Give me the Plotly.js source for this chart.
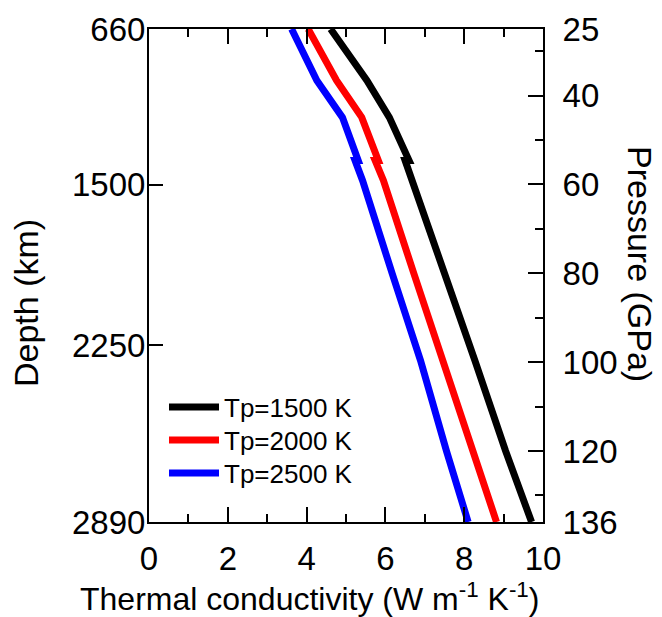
<!DOCTYPE html>
<html>
<head>
<meta charset="utf-8">
<script src="https://cdn.plot.ly/plotly-3.0.1.min.js"></script>
<style>
  html, body { margin: 0; padding: 0; background: #fff; }
  #chart { width: 662px; height: 617px; }
</style>
</head>
<body>
<div id="chart"></div>
<script>
// Pressure (GPa) sample points shared by the three curves (duplicate = small step in the curve)
const pressure = [25, 36.6, 44.9, 54.6, 54.6, 59.1, 80, 99.6, 120, 136];
// Thermal conductivity (W m-1 K-1)
const k1500 = [4.61, 5.53, 6.10, 6.60, 6.50, 6.68, 7.50, 8.27, 9.05, 9.71];
const k2000 = [4.04, 4.76, 5.40, 5.82, 5.74, 5.95, 6.72, 7.45, 8.20, 8.82];
const k2500 = [3.62, 4.26, 4.91, 5.31, 5.23, 5.42, 6.17, 6.89, 7.55, 8.10];
const seriesNames = ['Tp=1500 K', 'Tp=2000 K', 'Tp=2500 K'];
const seriesColors = ['#000000', '#ff0000', '#0000ff'];

// Left axis: depth labels placed at their pressure positions
const depthLabels = ['660', '1500', '2250', '2890'];
const depthTickPressures = [25, 60.1, 96.2, 136];
// Right axis: pressure labels
const pressureTicks = [25, 40, 60, 80, 100, 120, 136];
const pressureMinorTicks = [30, 50, 70, 90, 110, 130];
// Bottom axis
const xTicks = [0, 2, 4, 6, 8, 10];

const FONT = 'Liberation Sans, Arial, Helvetica, sans-serif';
const FS = 33;
const lw = 7;

const ks = [k1500, k2000, k2500];
const legendIds = ['legend', 'legend2', 'legend3'];
const traces = ks.map((k, i) => ({
  x: k, y: pressure, type: 'scatter', mode: 'lines',
  name: seriesNames[i], legend: legendIds[i],
  line: { color: seriesColors[i], width: lw },
  xaxis: 'x', yaxis: 'y'
}));
traces.push({ x: [null], y: [null], type: 'scatter', mode: 'lines', xaxis: 'x', yaxis: 'y2',
  showlegend: false, hoverinfo: 'skip' });
traces.push({ x: [null], y: [null], type: 'scatter', mode: 'lines', xaxis: 'x', yaxis: 'y3',
  showlegend: false, hoverinfo: 'skip' });

// plot-area geometry used to place the free titles/legends
const L = 149, T = 29, W = 394, H = 493;
const px = (x) => (x - L) / W;
const py = (y) => 1 - (y - T) / H;

function legendAt(yc) {
  return {
    x: px(164), y: py(yc), xanchor: 'left', yanchor: 'middle',
    font: { family: FONT, size: 26, color: '#000' },
    bgcolor: 'rgba(0,0,0,0)', borderwidth: 0, itemwidth: 50
  };
}

const axisFont = { family: FONT, size: FS, color: '#000' };

const layout = {
  width: 662, height: 617,
  margin: { l: 149, r: 119, t: 29, b: 95, pad: 0 },
  paper_bgcolor: '#fff', plot_bgcolor: '#fff',
  font: { family: FONT, color: '#000', size: FS },
  showlegend: true,
  legend: legendAt(407),
  legend2: legendAt(440),
  legend3: legendAt(473),
  xaxis: {
    range: [0, 10], showgrid: false, zeroline: false,
    showline: true, linecolor: '#000', linewidth: 2, mirror: 'ticks',
    tickmode: 'array', tickvals: xTicks,
    ticks: 'inside', ticklen: 15, tickwidth: 2, tickcolor: '#000',
    minor: { dtick: 1, tick0: 0, ticks: 'inside', ticklen: 8, tickwidth: 2, tickcolor: '#000' },
    tickfont: axisFont,
    ticklabelstandoff: 6
  },
  yaxis: {
    range: [136, 25], showgrid: false, zeroline: false,
    showline: true, linecolor: '#000', linewidth: 2, mirror: true,
    tickmode: 'array', tickvals: depthTickPressures, ticktext: depthLabels,
    ticks: '',
    tickfont: axisFont,
    ticklabelstandoff: -5
  },
  yaxis3: {
    overlaying: 'y', side: 'left', anchor: 'x',
    range: [136, 25], showgrid: false, zeroline: false, showline: false,
    tickmode: 'array', tickvals: depthTickPressures,
    ticks: 'inside', ticklen: 14, tickwidth: 2, tickcolor: '#000',
    showticklabels: false
  },
  yaxis2: {
    overlaying: 'y', side: 'right', anchor: 'x',
    range: [136, 25], showgrid: false, zeroline: false,
    showline: true, linecolor: '#000', linewidth: 2,
    tickmode: 'array', tickvals: pressureTicks,
    ticks: 'inside', ticklen: 15, tickwidth: 2, tickcolor: '#000',
    minor: { tickmode: 'array', tickvals: pressureMinorTicks, ticks: 'inside', ticklen: 8, tickwidth: 2, tickcolor: '#000' },
    tickfont: axisFont,
    ticklabelstandoff: 11
  },
  annotations: [
    { text: 'Thermal conductivity (W m<sup>-1</sup> K<sup>-1</sup>)', xref: 'paper', yref: 'paper',
      x: px(309), y: py(597), xanchor: 'center', yanchor: 'middle', showarrow: false,
      font: { family: FONT, size: 32, color: '#000' } },
    { text: 'Depth (km)', xref: 'paper', yref: 'paper', textangle: -90,
      x: px(26), y: py(303), xanchor: 'center', yanchor: 'middle', showarrow: false,
      font: { family: FONT, size: 34, color: '#000' } },
    { text: 'Pressure (GPa)', xref: 'paper', yref: 'paper', textangle: 90,
      x: px(640), y: py(264), xanchor: 'center', yanchor: 'middle', showarrow: false,
      font: { family: FONT, size: 34, color: '#000' } }
  ]
};

Plotly.newPlot('chart', traces, layout, { displayModeBar: false, staticPlot: true });
</script>
</body>
</html>
